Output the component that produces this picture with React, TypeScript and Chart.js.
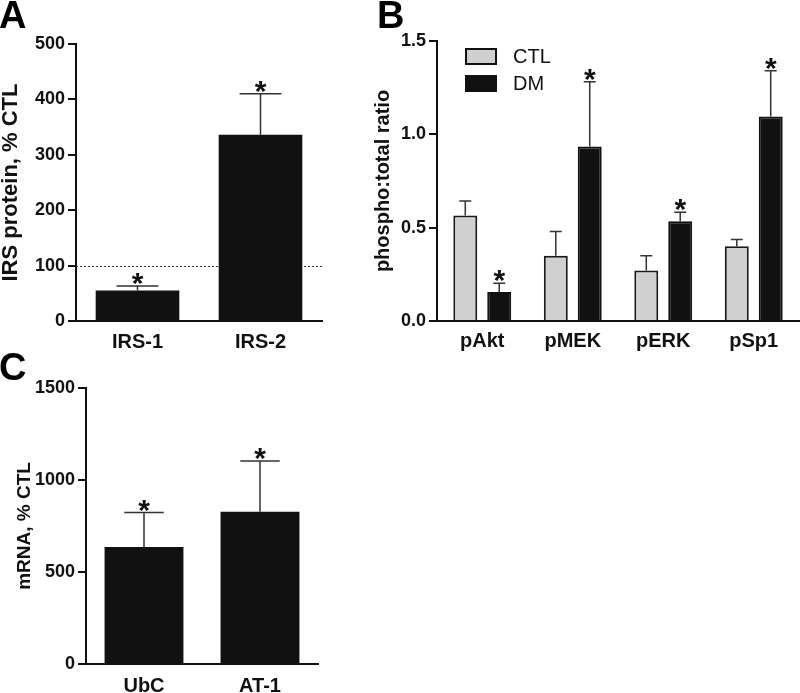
import React, { useEffect, useRef } from 'react';
import { Chart, registerables } from 'chart.js';

Chart.register(...registerables);

const FONT = "'Liberation Sans', Arial, Helvetica, sans-serif";

// ---------- Panel A: IRS protein ----------
const irsCategories = ['IRS-1', 'IRS-2'];
const irsMean = [55, 336];
const irsSem = [8, 74];
const irsSig = [true, true];
const irsRefLine = 100;

// ---------- Panel B: phospho:total ratio ----------
const phosCategories = ['pAkt', 'pMEK', 'pERK', 'pSp1'];
const ctlMean = [0.565, 0.35, 0.27, 0.4];
const ctlSem = [0.078, 0.13, 0.08, 0.037];
const ctlSig = [false, false, false, false];
const dmMean = [0.155, 0.935, 0.535, 1.095];
const dmSem = [0.047, 0.347, 0.047, 0.246];
const dmSig = [true, true, true, true];
const seriesLabels = ['CTL', 'DM'];

// ---------- Panel C: mRNA ----------
const mrnaCategories = ['UbC', 'AT-1'];
const mrnaMean = [636, 827];
const mrnaSem = [187, 276];
const mrnaSig = [true, true];

const errorBarPlugin = {
  id: 'errorBars',
  afterDatasetsDraw(chart: any) {
    const ctx = chart.ctx;
    const y = chart.scales.y;
    chart.data.datasets.forEach((ds: any, di: number) => {
      const meta = chart.getDatasetMeta(di);
      meta.data.forEach((bar: any, i: number) => {
        const v = ds.data[i];
        const e = ds.sem[i];
        const x = bar.x;
        const w = bar.width;
        const yTop = y.getPixelForValue(v + e);
        const yBar = y.getPixelForValue(v);
        ctx.save();
        ctx.strokeStyle = '#333';
        ctx.lineWidth = 1.5;
        ctx.beginPath();
        ctx.moveTo(x, yBar);
        ctx.lineTo(x, yTop);
        ctx.moveTo(x - w / 4, yTop);
        ctx.lineTo(x + w / 4, yTop);
        ctx.stroke();
        if (ds.sig[i]) {
          ctx.fillStyle = '#111';
          ctx.font = `bold 30px ${FONT}`;
          ctx.textAlign = 'center';
          ctx.textBaseline = 'alphabetic';
          ctx.fillText('*', x, yTop + 7);
        }
        ctx.restore();
      });
    });
  },
};

const panelLabelPlugin = {
  id: 'panelLabel',
  afterDraw(chart: any, _args: any, opts: any) {
    if (!opts || !opts.text) return;
    const ctx = chart.ctx;
    ctx.save();
    ctx.fillStyle = '#000';
    ctx.font = `bold 38px ${FONT}`;
    ctx.textAlign = 'left';
    ctx.textBaseline = 'alphabetic';
    ctx.fillText(opts.text, opts.x, opts.y);
    ctx.restore();
  },
};

const refLinePlugin = {
  id: 'refLine',
  beforeDatasetsDraw(chart: any, _args: any, opts: any) {
    if (!opts || opts.value === undefined) return;
    const ctx = chart.ctx;
    const { left, right } = chart.chartArea;
    const yy = chart.scales.y.getPixelForValue(opts.value);
    ctx.save();
    ctx.strokeStyle = '#333';
    ctx.lineWidth = 1;
    ctx.setLineDash([2, 2]);
    ctx.beginPath();
    ctx.moveTo(left, Math.round(yy) + 0.5);
    ctx.lineTo(right, Math.round(yy) + 0.5);
    ctx.stroke();
    ctx.restore();
  },
};

const legendPlugin = {
  id: 'boxLegend',
  afterDraw(chart: any, _args: any, opts: any) {
    if (!opts || !opts.show) return;
    const ctx = chart.ctx;
    const { left, top } = chart.chartArea;
    chart.data.datasets.forEach((ds: any, i: number) => {
      const bx = left + opts.dx;
      const by = top + opts.dy + i * 27;
      ctx.save();
      ctx.fillStyle = ds.backgroundColor;
      ctx.fillRect(bx, by, 32, 17);
      ctx.strokeStyle = '#111';
      ctx.lineWidth = 2;
      ctx.strokeRect(bx + 1, by + 1, 30, 15);
      ctx.fillStyle = '#111';
      ctx.font = `20px ${FONT}`;
      ctx.textAlign = 'left';
      ctx.textBaseline = 'middle';
      ctx.fillText(ds.label, bx + 48, by + 9);
      ctx.restore();
    });
  },
};

function makeConfig(p: any) {
  return {
    type: 'bar',
    data: { labels: p.labels, datasets: p.datasets },
    plugins: [errorBarPlugin, panelLabelPlugin, refLinePlugin, legendPlugin],
    options: {
      responsive: false,
      animation: false,
      devicePixelRatio: 1,
      layout: { padding: p.padding },
      plugins: {
        legend: { display: false },
        tooltip: { enabled: false },
        panelLabel: p.panel,
        refLine: p.refLine || {},
        boxLegend: p.boxLegend || {},
      },
      scales: {
        x: {
          type: 'category',
          offset: true,
          grid: { display: false, drawTicks: false },
          border: { display: true, color: '#111', width: 2, z: 1 },
          ticks: {
            color: '#111',
            padding: p.xPad,
            font: { family: FONT, size: 20, weight: 'bold' },
            maxRotation: 0,
          },
          afterFit: (s: any) => {
            s.height = p.xHeight;
          },
        },
        y: {
          min: 0,
          max: p.yMax,
          grid: {
            display: true,
            drawOnChartArea: false,
            drawTicks: true,
            tickLength: 8,
            color: '#111',
            lineWidth: 2,
          },
          border: { display: true, color: '#111', width: 2 },
          ticks: {
            stepSize: p.yStep,
            color: '#111',
            padding: 3,
            font: { family: FONT, size: 18, weight: 'bold' },
            callback: p.tickFmt,
          },
          title: {
            display: true,
            text: p.yTitle,
            color: '#111',
            font: { family: FONT, size: p.titleSize, weight: 'bold', lineHeight: 1 },
            padding: { top: p.titlePad, bottom: 0 },
          },
          afterFit: (s: any) => {
            s.width = p.yWidth;
          },
        },
      },
    },
  };
}

function Panel(props: { left: number; top: number; width: number; height: number; cfg: any }) {
  const ref = useRef<HTMLCanvasElement>(null);
  useEffect(() => {
    const chart = new Chart(ref.current as HTMLCanvasElement, makeConfig(props.cfg) as any);
    return () => chart.destroy();
  }, []);
  return (
    <canvas
      ref={ref}
      width={props.width}
      height={props.height}
      style={{
        position: 'absolute',
        left: props.left,
        top: props.top,
        width: props.width,
        height: props.height,
      }}
    />
  );
}

const blackBar = {
  backgroundColor: '#111111',
  borderWidth: 0,
  categoryPercentage: 1,
  barPercentage: 0.68,
};

export default function App() {
  const cfgA = {
    labels: irsCategories,
    datasets: [{ label: 'IRS', data: irsMean, sem: irsSem, sig: irsSig, ...blackBar }],
    padding: { left: 0, top: 44, right: 38, bottom: 0 },
    yMax: 500,
    yStep: 100,
    yTitle: 'IRS protein, % CTL',
    titleSize: 22,
    titlePad: 0,
    yWidth: 76,
    xHeight: 31,
    xPad: 9,
    tickFmt: (v: any) => String(v),
    panel: { text: 'A', x: -1, y: 28 },
    refLine: { value: irsRefLine },
  };
  const cfgB = {
    labels: phosCategories,
    datasets: [
      {
        label: seriesLabels[0],
        data: ctlMean,
        sem: ctlSem,
        sig: ctlSig,
        backgroundColor: '#d0d0d0',
        borderColor: '#1a1a1a',
        borderWidth: 2,
        categoryPercentage: 0.75,
        barPercentage: 0.706,
      },
      {
        label: seriesLabels[1],
        data: dmMean,
        sem: dmSem,
        sig: dmSig,
        backgroundColor: '#111111',
        borderColor: '#111111',
        borderWidth: 2,
        categoryPercentage: 0.75,
        barPercentage: 0.706,
      },
    ],
    padding: { left: 0, top: 41, right: 1, bottom: 0 },
    yMax: 1.5,
    yStep: 0.5,
    yTitle: 'phospho:total ratio',
    titleSize: 20,
    titlePad: 13,
    yWidth: 77,
    xHeight: 31,
    xPad: 8,
    tickFmt: (v: any) => Number(v).toFixed(1),
    panel: { text: 'B', x: 17, y: 28 },
    boxLegend: { show: true, dx: 28, dy: 7 },
  };
  const cfgC = {
    labels: mrnaCategories,
    datasets: [{ label: 'mRNA', data: mrnaMean, sem: mrnaSem, sig: mrnaSig, ...blackBar }],
    padding: { left: 0, top: 36, right: 42, bottom: 0 },
    yMax: 1500,
    yStep: 500,
    yTitle: 'mRNA, % CTL',
    titleSize: 19,
    titlePad: 15,
    yWidth: 86,
    xHeight: 29,
    xPad: 10,
    tickFmt: (v: any) => String(v),
    panel: { text: 'C', x: -1, y: 28 },
  };
  return (
    <div style={{ position: 'absolute', left: 0, top: 0, width: 800, height: 693, background: '#fff' }}>
      <Panel left={0} top={0} width={360} height={352} cfg={cfgA} />
      <Panel left={360} top={0} width={440} height={352} cfg={cfgB} />
      <Panel left={0} top={352} width={360} height={341} cfg={cfgC} />
    </div>
  );
}
